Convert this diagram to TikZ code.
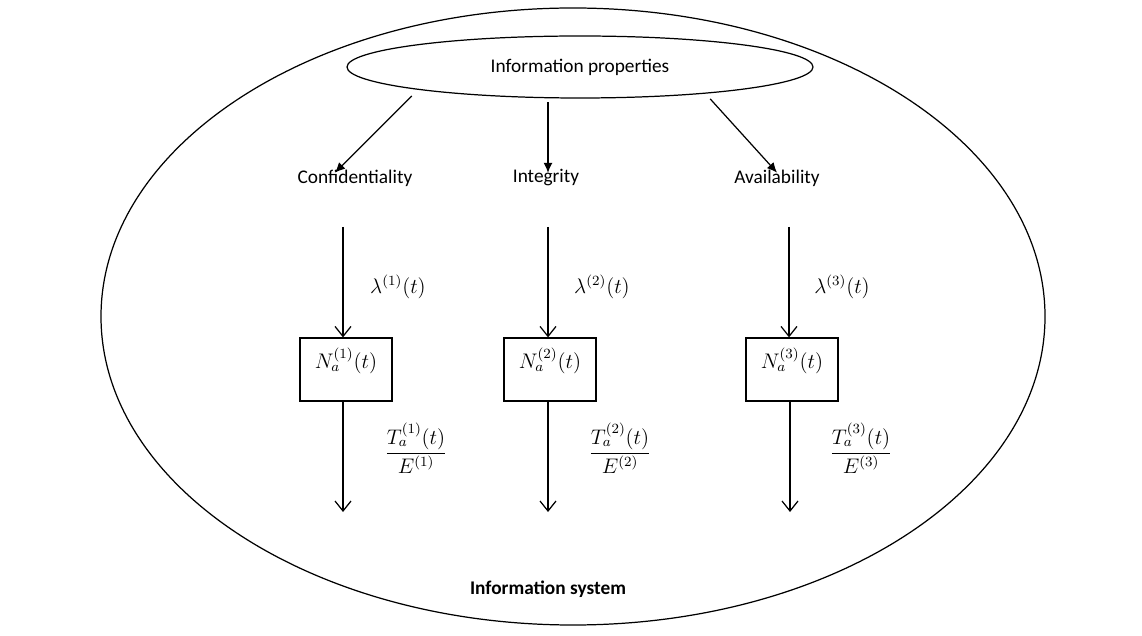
\documentclass[tikz,border=0pt]{standalone}
\usepackage{amsmath}
\usepackage{fontspec}
\setmainfont{Carlito}
\usepackage{tikz}
\usetikzlibrary{arrows.meta,shapes.geometric}

\tikzset{
	propline/.style={line width=0.7pt, -{Latex[length=2mm,width=1.8mm]}},
	flowline/.style={line width=0.7pt, -{Straight Barb[length=2mm,width=3.2mm]}},
	propname/.style={font=\fontsize{11pt}{13pt}\selectfont, inner sep=1pt},
	ratebox/.style={draw, line width=0.7pt, minimum width=1.84cm, inner sep=0pt,
		text height=0.62cm, text depth=0.64cm, font=\fontsize{11.5pt}{14pt}\selectfont},
	ratelabel/.style={font=\fontsize{11.5pt}{14pt}\selectfont, inner sep=0pt}
}

\begin{document}
\begin{tikzpicture}
			%%%%% START %%%%%
			\useasboundingbox (0, 0) rectangle (22.84, 12.7);
			
			\draw[line width=0.7pt] (11.46, 6.37) ellipse (9.44 and 6.17);
			\node[draw, ellipse, line width=0.7pt, minimum width=9.32cm, minimum height=1.24cm, inner sep=0pt, propname] (props) at (11.60, 11.36) {Information properties};
			
			\node[propname] (conf) at (7.10, 9.14) {Confidentiality};
			\node[propname] (integ) at (10.92, 9.14) {Integrity};
			\node[propname] (avail) at (15.54, 9.14) {Availability};
			
			% column 1
			\node[ratebox] (box1) at (6.92, 5.31) {$N_a^{(1)}(t)$};
			\coordinate (in1) at (6.86, 8.16);
			\coordinate (out1) at (6.86, 2.46);
			\draw[flowline] (in1) -- (in1 |- box1.north);
			\draw[flowline] (out1 |- box1.south) -- (out1);
			\node[ratelabel] (rate1) at (7.96, 6.96) {$\lambda^{(1)}(t)$};
			\node[ratelabel] (frac1) at (8.32, 3.74) {$\dfrac{T_a^{(1)}(t)}{E^{(1)}}$};
			
			% column 2
			\node[ratebox] (box2) at (11.00, 5.31) {$N_a^{(2)}(t)$};
			\coordinate (in2) at (10.96, 8.16);
			\coordinate (out2) at (10.96, 2.46);
			\draw[flowline] (in2) -- (in2 |- box2.north);
			\draw[flowline] (out2 |- box2.south) -- (out2);
			\node[ratelabel] (rate2) at (12.04, 6.96) {$\lambda^{(2)}(t)$};
			\node[ratelabel] (frac2) at (12.40, 3.74) {$\dfrac{T_a^{(2)}(t)}{E^{(2)}}$};
			
			% column 3
			\node[ratebox] (box3) at (15.84, 5.31) {$N_a^{(3)}(t)$};
			\coordinate (in3) at (15.78, 8.16);
			\coordinate (out3) at (15.80, 2.46);
			\draw[flowline] (in3) -- (in3 |- box3.north);
			\draw[flowline] (out3 |- box3.south) -- (out3);
			\node[ratelabel] (rate3) at (16.84, 6.96) {$\lambda^{(3)}(t)$};
			\node[ratelabel] (frac3) at (17.22, 3.74) {$\dfrac{T_a^{(3)}(t)}{E^{(3)}}$};
			
			% arrows from the properties
			\draw[propline, shorten <=5pt] (props.188) -- ([xshift=-0.40cm, yshift=-0.1cm]conf.north);
			\draw[propline, shorten <=2pt, shorten >=-3pt] (props.south -| in2) -- (integ.north -| in2);
			\draw[propline, shorten <=4pt] (props.-12) -- ([yshift=-0.1cm]avail.north);
			
			\node[propname, font=\fontsize{11pt}{13pt}\selectfont\bfseries] (infsys) at (10.96, 0.92) {Information system};
			%%%%% END %%%%%
\end{tikzpicture}
\end{document}
